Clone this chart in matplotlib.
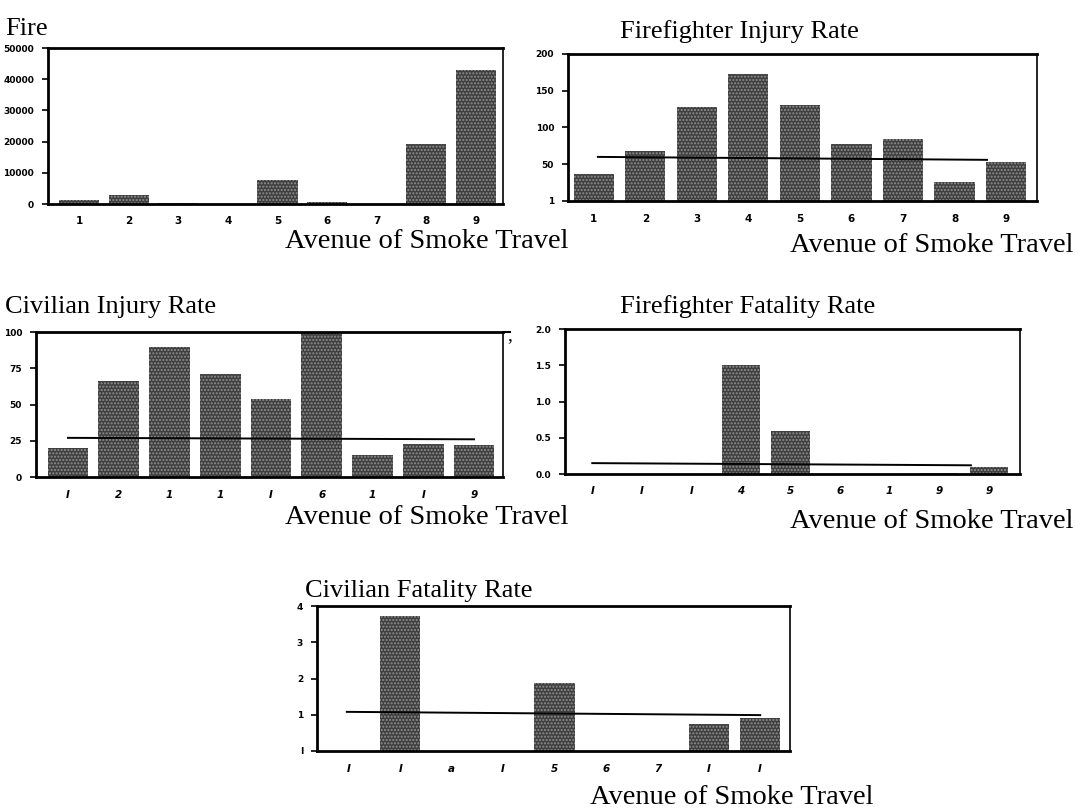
import matplotlib.pyplot as plt

W, H = 1075, 809

# data
cats = [1, 2, 3, 4, 5, 6, 7, 8, 9]

fire_vals = [1300, 2900, 200, 0, 7700, 600, 0, 19200, 42900]
fire_xlabels = ['1', '2', '3', '4', '5', '6', '7', '8', '9']
fire_yticks = [0, 10000, 20000, 30000, 40000, 50000]

ffi_vals = [37, 68, 128, 173, 131, 78, 84, 26, 53]
ffi_line = [60, 56]
ffi_xlabels = ['1', '2', '3', '4', '5', '6', '7', '8', '9']
ffi_yticks = [0, 50, 100, 150, 200]

civi_vals = [20, 66, 90, 71, 54, 99, 15, 23, 22]
civi_line = [27, 26]
civi_xlabels = ['I', '2', '1', '1', 'I', '6', '1', 'I', '9']
civi_yticks = [0, 25, 50, 75, 100]

fff_vals = [0, 0, 0, 1.50, 0.59, 0, 0, 0.02, 0.10]
fff_line = [0.15, 0.12]
fff_xlabels = ['I', 'I', 'I', '4', '5', '6', '1', '9', '9']
fff_yticks = [0.0, 0.5, 1.0, 1.5, 2.0]

civf_vals = [0, 3.72, 0, 0, 1.88, 0, 0, 0.74, 0.91]
civf_line = [1.08, 0.99]
civf_xlabels = ['I', 'I', 'a', 'I', '5', '6', '7', 'I', 'I']
civf_yticks = [0, 1, 2, 3, 4]

fig = plt.figure(figsize=(W / 100, H / 100), dpi=100)
fig.patch.set_facecolor('white')

serif = 'Liberation Serif'


def px_axes(left, top, right, bottom):
    return fig.add_axes([left / W, 1 - bottom / H, (right - left) / W, (bottom - top) / H])


def ftext(x, y, s, size=19):
    # y is the baseline in pixels from the top
    fig.text(x / W, 1 - y / H, s, family=serif, fontsize=size, va='baseline', ha='left')


def panel(box, vals, xlabels, yticks, ylabels, xlim, width, line=None, line_x=None,
          italic=False, top_extend=None):
    ax = px_axes(*box)
    ax.bar(cats, vals, width=width, color='#3f3f3f', edgecolor='#8f8f8f',
           hatch='.....', linewidth=0)
    if line is not None:
        ax.plot(line_x, line, color='black', linewidth=1.4)
    ax.set_xlim(*xlim)
    ax.set_ylim(yticks[0], yticks[-1])
    ax.set_yticks(yticks)
    ax.set_yticklabels(ylabels, fontsize=6.5, fontweight='bold')
    ax.set_xticks(cats)
    ax.set_xticklabels(xlabels, fontsize=7.5, fontweight='bold',
                       fontstyle='italic' if italic else 'normal')
    ax.tick_params(axis='x', length=0, pad=9)
    ax.tick_params(axis='y', direction='out', length=4, width=1.2, pad=6)
    for s in ax.spines.values():
        s.set_linewidth(1.2)
    ax.spines['left'].set_linewidth(2)
    ax.spines['bottom'].set_linewidth(2)
    ax.spines['top'].set_linewidth(2)
    if top_extend is not None:
        # the scanned frame line runs on past the right edge
        ax.plot([xlim[1], top_extend], [yticks[-1], yticks[-1]], color='black',
                linewidth=1.5, clip_on=False)
    return ax


panel((48, 48, 503, 204), fire_vals, fire_xlabels, fire_yticks,
      ['0', '10000', '20000', '30000', '40000', '50000'], (0.37, 9.55), 0.81)
panel((568, 54, 1037, 201), ffi_vals, ffi_xlabels, ffi_yticks,
      ['1', '50', '100', '150', '200'], (0.5, 9.6), 0.78,
      line=ffi_line, line_x=[1.08, 8.63])
panel((36, 332, 503, 477), civi_vals, civi_xlabels, civi_yticks,
      ['0', '25', '50', '75', '100'], (0.37, 9.57), 0.8,
      line=civi_line, line_x=[1.0, 9.0], italic=True, top_extend=9.7)
panel((565, 329, 1020, 474), fff_vals, fff_xlabels, fff_yticks,
      ['0.0', '0.5', '1.0', '1.5', '2.0'], (0.45, 9.63), 0.77,
      line=fff_line, line_x=[1.0, 8.64], italic=True)
panel((317, 606, 790, 751), civf_vals, civf_xlabels, civf_yticks,
      ['I', '1', '2', '3', '4'], (0.38, 9.58), 0.78,
      line=civf_line, line_x=[0.96, 9.0], italic=True)

# panel titles and axis captions
ftext(5, 35, 'Fire')
ftext(620, 38, 'Firefighter Injury Rate')
ftext(5, 313, 'Civilian Injury Rate')
ftext(620, 313, 'Firefighter Fatality Rate')
ftext(305, 597, 'Civilian Fatality Rate')
ftext(285, 248, 'Avenue of Smoke Travel', size=20.5)
ftext(790, 252, 'Avenue of Smoke Travel', size=20.5)
ftext(285, 524, 'Avenue of Smoke Travel', size=20.5)
ftext(790, 528, 'Avenue of Smoke Travel', size=20.5)
ftext(590, 804, 'Avenue of Smoke Travel', size=20.5)
ftext(507, 340, ',', size=14)

fig.savefig('out.png', dpi=100)
